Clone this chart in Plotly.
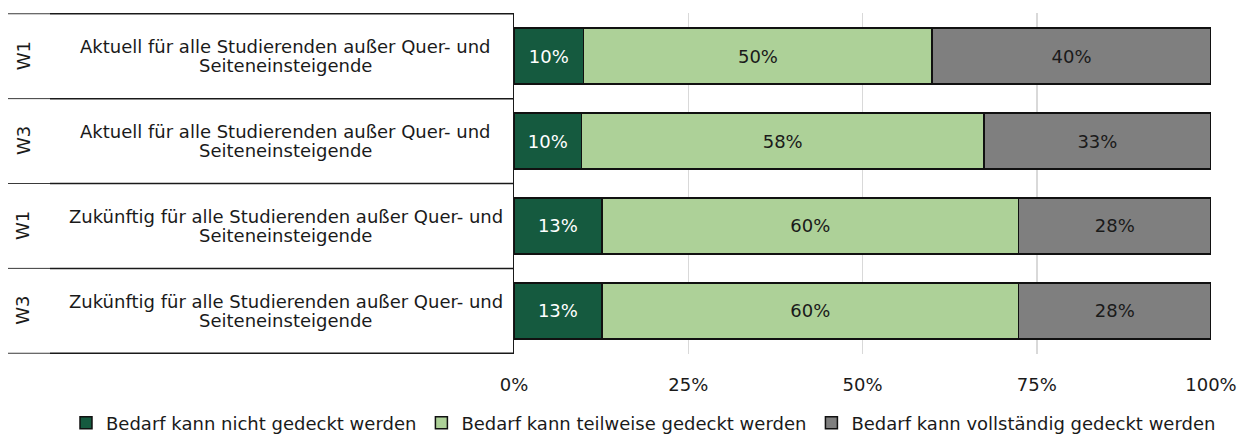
import plotly.graph_objects as go

# ---- data ----
waves = ["W1", "W3", "W1", "W3"]
cat_line1 = [
    "Aktuell für alle Studierenden außer Quer- und",
    "Aktuell für alle Studierenden außer Quer- und",
    "Zukünftig für alle Studierenden außer Quer- und",
    "Zukünftig für alle Studierenden außer Quer- und",
]
cat_line2 = ["Seiteneinsteigende"] * 4
series_names = [
    "Bedarf kann nicht gedeckt werden",
    "Bedarf kann teilweise gedeckt werden",
    "Bedarf kann vollständig gedeckt werden",
]
nicht = [10.0, 9.7, 12.6, 12.6]
teilweise = [50.0, 57.7, 59.8, 59.8]
vollstaendig = [40.0, 32.6, 27.6, 27.6]
tick_vals = [0, 25, 50, 75, 100]
tick_text = ["0%", "25%", "50%", "75%", "100%"]

colors = ["#155A3F", "#ADD198", "#7F7F7F"]
text_colors = ["#FFFFFF", "#1A1A1A", "#1A1A1A"]

row_keys = [f"{i}:{w} {a}" for i, (w, a) in enumerate(zip(waves, cat_line1))]

FONT = "DejaVu Sans"
FS = 18

W, H = 1248, 435
L, R, T, B = 514, 37, 13, 81
pw = W - L - R
ph = H - T - B

def px_to_paper_x(px):
    return (px - L) / pw

def px_to_paper_y(py):
    return 1 - (py - T) / ph

fig = go.Figure()
for name, vals, col, tcol in zip(series_names, [nicht, teilweise, vollstaendig], colors, text_colors):
    fig.add_trace(go.Bar(
        y=row_keys, x=vals, name=name, orientation="h",
        marker=dict(color=col, line=dict(color="#111111", width=1.5)),
        texttemplate="%{x:.0f}%", textposition="inside", insidetextanchor="middle",
        textangle=0, constraintext="none",
        textfont=dict(family=FONT, size=FS, color=tcol),
        hoverinfo="skip",
    ))

shapes = []
for b in [-0.5, 0.5, 1.5, 2.5, 3.5]:
    shapes.append(dict(type="line", xref="paper", yref="y",
                       x0=px_to_paper_x(8), x1=px_to_paper_x(50), y0=b, y1=b,
                       line=dict(color="#3A3A3A", width=1)))
    shapes.append(dict(type="line", xref="paper", yref="y",
                       x0=px_to_paper_x(50), x1=0, y0=b, y1=b,
                       line=dict(color="#1A1A1A", width=1.5)))

annotations = []
xc = px_to_paper_x(285.5)
xw = px_to_paper_x(23)
for key, w, l1, l2 in zip(row_keys, waves, cat_line1, cat_line2):
    annotations.append(dict(x=xw, y=key, xref="paper", yref="y", text=w,
                            textangle=-90, showarrow=False,
                            xanchor="center", yanchor="middle",
                            font=dict(family=FONT, size=FS, color="#1A1A1A")))
    annotations.append(dict(x=xc, y=key, xref="paper", yref="y", text=l1,
                            showarrow=False, yshift=9.5,
                            xanchor="center", yanchor="middle",
                            font=dict(family=FONT, size=FS, color="#1A1A1A")))
    annotations.append(dict(x=xc, y=key, xref="paper", yref="y", text=l2,
                            showarrow=False, yshift=-9.5,
                            xanchor="center", yanchor="middle",
                            font=dict(family=FONT, size=FS, color="#1A1A1A")))

fig.update_layout(
    width=W, height=H,
    margin=dict(l=L, r=R, t=T, b=B, pad=0, autoexpand=False),
    paper_bgcolor="white", plot_bgcolor="white",
    barmode="stack", bargap=0.34,
    font=dict(family=FONT, size=FS, color="#1A1A1A"),
    showlegend=True,
    legend=dict(orientation="h",
                x=px_to_paper_x(66), xanchor="left",
                y=px_to_paper_y(423), yanchor="middle",
                font=dict(family=FONT, size=FS, color="#1A1A1A"),
                itemwidth=30, traceorder="normal", bgcolor="rgba(0,0,0,0)"),
    xaxis=dict(range=[0, 100], tickvals=tick_vals, ticktext=tick_text,
               showgrid=True, gridcolor="#D9D9D9", gridwidth=1.5,
               zeroline=False, showline=False, ticks="",
               ticklabelstandoff=18,
               tickfont=dict(family=FONT, size=FS, color="#1A1A1A"),
               fixedrange=True),
    yaxis=dict(categoryorder="array", categoryarray=row_keys,
               autorange="reversed", showticklabels=False,
               showline=True, linecolor="#1A1A1A", linewidth=1.5,
               showgrid=False, zeroline=False, ticks="", fixedrange=True),
    shapes=shapes,
    annotations=annotations,
)

fig.write_html("out.html",
               config={"displayModeBar": False, "staticPlot": True},
               post_script="document.body.style.margin='0';document.body.style.padding='0';")
